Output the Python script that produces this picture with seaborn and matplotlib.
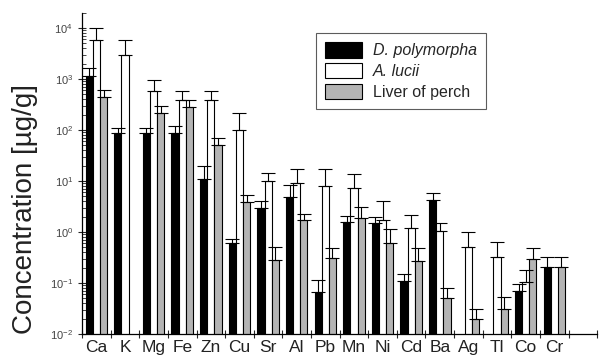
"""
Element concentrations in D. polymorpha, A. lucii and liver of perch.
Bar chart on log scale with one-sided (upper) error bars.
"""

import matplotlib
matplotlib.use("Agg")
import matplotlib.pyplot as plt
from matplotlib.patches import Patch
from matplotlib.ticker import FixedLocator, NullFormatter
import numpy as np
import pandas as pd
import seaborn as sns

elements = ["Ca", "K", "Mg", "Fe", "Zn", "Cu", "Sr", "Al", "Pb", "Mn",
            "Ni", "Cd", "Ba", "Ag", "Tl", "Co", "Cr"]
samples = ["D. polymorpha", "A. lucii", "Liver of perch"]

# mean values [ug/g], NaN = not measured
dreissena = [1150, 87, 87, 87, 11, 0.6, 2.9, 4.9, 0.066, 1.6,
             1.5, 0.107, 4.2, np.nan, np.nan, 0.07, 0.21]
anodonta = [5750, 2900, 590, 390, 380, 98, 10, 9.1, 8.0, 7.2,
            1.7, 1.2, 1.05, 0.51, 0.32, 0.105, np.nan]
perch = [450, np.nan, 215, 280, 50, 3.9, 0.28, 1.75, 0.31, 1.9,
         0.6, 0.275, 0.05, 0.02, 0.031, 0.295, 0.21]

# upper end of the error bars
dreissena_hi = [1660, 110, 110, 120, 20, 0.72, 4.0, 8.2, 0.115, 2.1,
                2.0, 0.15, 5.9, np.nan, np.nan, 0.095, 0.32]
anodonta_hi = [10000, 5900, 940, 590, 590, 210, 14, 17, 17, 13.5,
               4.1, 2.2, 1.5, 0.98, 0.65, 0.18, np.nan]
perch_hi = [615, np.nan, 295, 380, 69, 5.4, 0.5, 2.3, 0.49, 3.1,
            1.15, 0.48, 0.08, 0.031, 0.052, 0.48, 0.32]

colors = ["black", "white", "#b4b4b4"]

sns.set_theme(style="ticks")
plt.rcParams["font.family"] = ["Liberation Sans", "DejaVu Sans"]

rows = []
for name, vals, his in [(samples[0], dreissena, dreissena_hi),
                        (samples[1], anodonta, anodonta_hi),
                        (samples[2], perch, perch_hi)]:
    for el, v, h in zip(elements, vals, his):
        rows.append({"element": el, "sample": name, "value": v, "hi": h})
df = pd.DataFrame(rows)

fig, ax = plt.subplots(figsize=(5.99, 3.58), dpi=100)
fig.subplots_adjust(left=0.137, right=0.997, bottom=0.067, top=0.965)

sns.barplot(
    data=df.dropna(subset=["value"]), x="element", y="value", hue="sample",
    order=elements, hue_order=samples, palette=colors,
    edgecolor="black", linewidth=0.8, width=0.75, gap=0,
    log_scale=True, errorbar=None, legend=False, ax=ax,
)

# upper error bars, placed at the dodged bar centres
bar_w = 0.75 / len(samples)
for j, name in enumerate(samples):
    sub = df[df["sample"] == name].set_index("element").loc[elements]
    xs = np.arange(len(elements)) + (j - 1) * bar_w
    lower = np.zeros(len(elements))
    upper = (sub["hi"] - sub["value"]).to_numpy()
    ax.errorbar(xs, sub["value"].to_numpy(), yerr=[lower, upper], fmt="none",
                ecolor="black", elinewidth=0.8, capsize=5, capthick=0.8)

ax.set_yscale("log")
ax.set_ylim(1e-2, 2e4)
ax.set_xlim(-0.5, len(elements) + 0.5)

ax.set_xlabel("")
ax.set_ylabel("Concentration [µg/g]", fontsize=20, color="#222222")
ax.yaxis.set_label_coords(-0.085, 0.39)
ax.tick_params(axis="x", which="major", length=0, labelsize=12.5,
               labelcolor="#222222", pad=4)
ax.xaxis.set_minor_locator(FixedLocator(np.arange(-0.5, len(elements) + 1, 1)))
ax.xaxis.set_minor_formatter(NullFormatter())
ax.tick_params(axis="x", which="minor", direction="inout", length=6, width=0.8)
ax.tick_params(axis="y", which="major", direction="inout", length=6, width=0.8,
               labelsize=8, labelcolor="#444444")
ax.tick_params(axis="y", which="minor", direction="in", length=3, width=0.6)

sns.despine(ax=ax)
for side in ["left", "bottom"]:
    ax.spines[side].set_linewidth(0.9)
    ax.spines[side].set_color("black")

handles = [Patch(facecolor=c, edgecolor="black", linewidth=0.8) for c in colors]
leg = ax.legend(handles, samples, loc="upper left",
                bbox_to_anchor=(0.455, 0.935), frameon=True, fancybox=False,
                edgecolor="#333333", fontsize=11.5, handlelength=2.3,
                handleheight=1.1, borderpad=0.55, labelspacing=0.3,
                handletextpad=0.7, borderaxespad=0)
leg.get_frame().set_linewidth(0.8)
for txt in leg.get_texts()[:2]:
    txt.set_style("italic")

fig.savefig("out.png", dpi=100)
